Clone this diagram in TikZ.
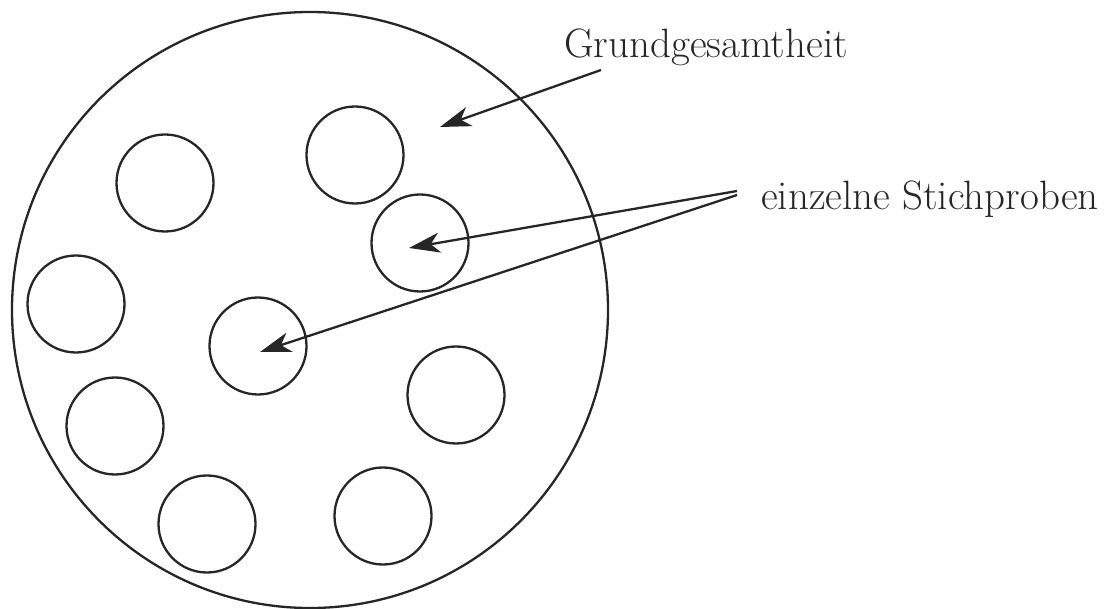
\documentclass[tikz,border=0pt]{standalone}
\usepackage{fontspec}
\usetikzlibrary{positioning,arrows.meta}
\tikzset{
  probe/.style={
    draw,
    circle,
    minimum size=97pt,
    inner sep=0pt
  },
  textnode/.style={
    inner sep=0pt,
    anchor=base west,
    font=\fontsize{41}{48}\selectfont
  },
  line/.style={-{Stealth[length=31pt,width=20pt,inset=9pt]}}
}
\begin{document}
\begin{tikzpicture}[x=1pt,y=-1pt,line width=2.3pt,draw=black!85,text=black!85]
\useasboundingbox (0,0) rectangle (1109,609);

				% population and samples
				\node[draw, circle, minimum size=596pt, inner sep=0pt] (p) at (310,310) {};

				\node[probe] (a) at (165,183) {};
				\node[probe] (b) at (355,155) {};
				\node[probe] (c) at (420,243) {};
				\node[probe] (d) at (76,304) {};
				\node[probe] (e) at (258,346) {};
				\node[probe] (f) at (456,395) {};
				\node[probe] (g) at (115,426) {};
				\node[probe] (h) at (207,524) {};
				\node[probe] (i) at (383,516) {};

				% labels
				\node[textnode] (t) at (563,58) {Grundgesamtheit};
				\node[textnode] (u) at (760,210) {einzelne Stichproben};

				\coordinate (t0) at (601,70);
				\coordinate (t1) at (440,127);
				\draw[line] (t0) -- (t1);

				\coordinate (u0) at (737,191);
				\coordinate (u1) at (409,248);
				\coordinate (u2) at (737,195);
				\coordinate (u3) at (260,352);
				\draw[line] (u0) -- (u1);
				\draw[line] (u2) -- (u3);

\end{tikzpicture}
\end{document}
